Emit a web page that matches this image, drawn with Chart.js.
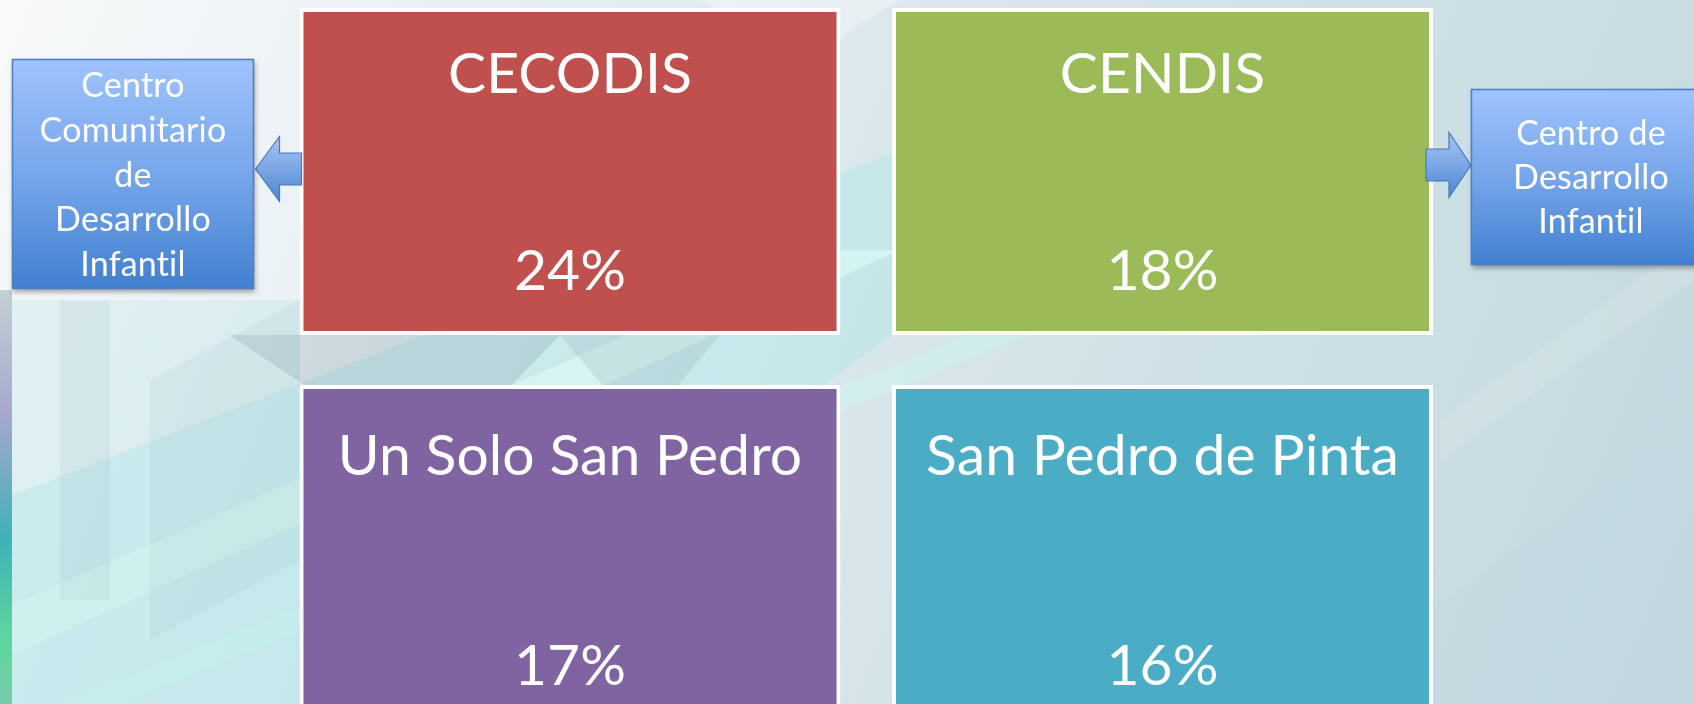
<!DOCTYPE html>
<html><head><meta charset="utf-8">
<script src="https://cdn.jsdelivr.net/npm/chart.js@4/dist/chart.umd.min.js"></script>
<style>html,body{margin:0;padding:0;background:#fff;overflow:hidden}#wrap{width:1694px;height:704px;position:relative}canvas{display:block}</style>
</head><body><div id="wrap"><canvas id="c" width="1694" height="704"></canvas></div>
<script>
// ---------- data ----------
const categories = ['CECODIS', 'CENDIS', 'Un Solo San Pedro', 'San Pedro de Pinta'];
const shares = [24, 18, 17, 16];
const boxColors = ['#C0504D', '#9BBB59', '#8064A2', '#4BACC6'];
const gridColumns = ['col-1', 'col-2'];
const calloutLeftLines = ['Centro', 'Comunitario', 'de', 'Desarrollo', 'Infantil'];
const calloutRightLines = ['Centro de', 'Desarrollo', 'Infantil'];

// ---------- layout (style constants) ----------
const W = 1694, H = 704;
const ROW_BANDS = [[8, 335], [385, 733]];   // vertical band of each grid row (slide units)
const FONT = 'Lato, "Open Sans", sans-serif';

const rows = [0, 1].map(r => ({
  data: gridColumns.map((c, ci) => ROW_BANDS[r].slice()),
  backgroundColor: gridColumns.map((c, ci) => boxColors[r * 2 + ci]),
  borderColor: '#ffffff',
  borderWidth: 4,
  borderSkipped: false,
  grouped: false,
  categoryPercentage: 1,
  barPercentage: 0.913
}));

const backgroundPlugin = {
  id: 'bg',
  beforeDraw(chart) {
    const ctx = chart.ctx;
    ctx.save();
    let g = ctx.createLinearGradient(0, 0, W, H);
    g.addColorStop(0, '#f8fafb');
    g.addColorStop(0.3, '#e4edf1');
    g.addColorStop(0.65, '#d0e2e7');
    g.addColorStop(1, '#c2d8de');
    ctx.fillStyle = g; ctx.fillRect(0, 0, W, H);
    const poly = (pts, fill) => { ctx.beginPath(); ctx.moveTo(pts[0][0], pts[0][1]); for (let i = 1; i < pts.length; i++) ctx.lineTo(pts[i][0], pts[i][1]); ctx.closePath(); ctx.fillStyle = fill; ctx.fill(); };
    // cyan diagonal bands
    poly([[0, 704], [0, 500], [900, 150], [1150, 150], [380, 704]], 'rgba(165,232,228,0.38)');
    poly([[0, 660], [0, 610], [820, 250], [900, 250]], 'rgba(225,255,248,0.5)');
    poly([[120, 704], [60, 704], [980, 330], [1040, 330]], 'rgba(200,250,240,0.35)');
    poly([[12, 300], [300, 300], [300, 704], [12, 704]], 'rgba(175,225,230,0.28)');
    // gray facets
    poly([[230, 335], [560, 335], [430, 470]], 'rgba(110,135,148,0.22)');
    poly([[560, 335], [720, 335], [640, 430]], 'rgba(120,145,155,0.16)');
    poly([[60, 300], [110, 300], [110, 600], [60, 600]], 'rgba(130,155,165,0.1)');
    poly([[150, 380], [300, 300], [300, 560], [150, 640]], 'rgba(140,165,175,0.1)');
    poly([[780, 560], [840, 520], [840, 704], [780, 704]], 'rgba(150,165,170,0.15)');
    poly([[700, 0], [900, 0], [800, 60]], 'rgba(255,255,255,0.35)');
    poly([[1440, 420], [1694, 240], [1694, 280], [1440, 460]], 'rgba(255,255,255,0.12)');
    poly([[1300, 704], [1694, 420], [1694, 704]], 'rgba(190,215,222,0.25)');
    // left colour strip
    g = ctx.createLinearGradient(0, 290, 0, 704);
    g.addColorStop(0, '#c3d0d6');
    g.addColorStop(0.3, '#a6a8cc');
    g.addColorStop(0.6, '#3fb1b8');
    g.addColorStop(0.85, '#5ed79c');
    g.addColorStop(1, '#78c9a8');
    ctx.fillStyle = g; ctx.fillRect(0, 290, 12, 414);
    ctx.restore();
  }
};

function drawArrow(ctx, tipX, tipY, headBaseX, shaftEndX, headHalf, shaftHalf) {
  ctx.save();
  ctx.beginPath();
  ctx.moveTo(tipX, tipY);
  ctx.lineTo(headBaseX, tipY - headHalf);
  ctx.lineTo(headBaseX, tipY - shaftHalf);
  ctx.lineTo(shaftEndX, tipY - shaftHalf);
  ctx.lineTo(shaftEndX, tipY + shaftHalf);
  ctx.lineTo(headBaseX, tipY + shaftHalf);
  ctx.lineTo(headBaseX, tipY + headHalf);
  ctx.closePath();
  const g = ctx.createLinearGradient(0, tipY - headHalf, 0, tipY + headHalf);
  g.addColorStop(0, '#a6c6f4'); g.addColorStop(1, '#4f86d2');
  ctx.fillStyle = g; ctx.fill();
  ctx.strokeStyle = '#4a79b8'; ctx.lineWidth = 1.2; ctx.stroke();
  ctx.restore();
}

function drawCallout(ctx, x, y, w, h, lines, cx, firstBaseline, lineH) {
  ctx.save();
  ctx.shadowColor = 'rgba(0,0,0,0.35)'; ctx.shadowBlur = 5; ctx.shadowOffsetY = 3; ctx.shadowOffsetX = 1;
  const g = ctx.createLinearGradient(0, y, 0, y + h);
  g.addColorStop(0, '#9fc3fd'); g.addColorStop(0.5, '#77a6ea'); g.addColorStop(1, '#4180d0');
  ctx.fillStyle = g; ctx.fillRect(x, y, w, h);
  ctx.shadowColor = 'transparent';
  ctx.strokeStyle = '#4d7fc0'; ctx.lineWidth = 1.5; ctx.strokeRect(x + 0.5, y + 0.5, w - 1, h - 1);
  ctx.fillStyle = '#ffffff'; ctx.textAlign = 'center'; ctx.textBaseline = 'alphabetic';
  ctx.font = '400 34px ' + FONT;
  if ('letterSpacing' in ctx) ctx.letterSpacing = '0.2px';
  lines.forEach((t, i) => ctx.fillText(t, cx, firstBaseline + i * lineH));
  ctx.restore();
}

const labelPlugin = {
  id: 'labels',
  afterDatasetsDraw(chart) {
    const ctx = chart.ctx;
    ctx.save();
    ctx.fillStyle = '#ffffff'; ctx.textAlign = 'center'; ctx.textBaseline = 'alphabetic';
    ctx.font = '400 57px ' + FONT;
    if ('letterSpacing' in ctx) ctx.letterSpacing = '0.1px';
    let boxes = [];
    chart.data.datasets.forEach((ds, r) => {
      chart.getDatasetMeta(r).data.forEach((el, ci) => {
        const idx = r * 2 + ci;
        const top = Math.min(el.y, el.base), bottom = Math.max(el.y, el.base);
        const h = bottom - top;
        boxes[idx] = { x: el.x, w: el.width, top, bottom };
        ctx.fillText(categories[idx], el.x, top + 0.259 * h);
        ctx.fillText(shares[idx] + '%', el.x, top + 0.862 * h);
      });
    });
    ctx.restore();
    // callouts + arrows anchored to the first row boxes
    const red = boxes[0], green = boxes[1];
    const redLeft = red.x - red.w / 2, greenRight = green.x + green.w / 2;
    drawArrow(ctx, redLeft - 44, 169, redLeft - 20, redLeft + 2, 32.5, 16);
    drawCallout(ctx, 12, 59, 242, 230, calloutLeftLines, 133, 97, 44.8);
    drawArrow(ctx, greenRight + 38, 165, greenRight + 16, greenRight - 7, 32.5, 16);
    drawCallout(ctx, greenRight + 38, 89, 260, 176, calloutRightLines, 1591, 145, 44);
  }
};

new Chart(document.getElementById('c').getContext('2d'), {
  type: 'bar',
  data: { labels: gridColumns, datasets: rows },
  options: {
    responsive: false, animation: false, events: [], devicePixelRatio: 1,
    layout: { padding: { left: 273.75, right: 235.25, top: 0, bottom: 0 } },
    scales: {
      x: { display: false },
      y: { display: false, min: 0, max: H, reverse: true }
    },
    plugins: { legend: { display: false }, tooltip: { enabled: false } }
  },
  plugins: [backgroundPlugin, labelPlugin]
});
</script>
</body></html>
